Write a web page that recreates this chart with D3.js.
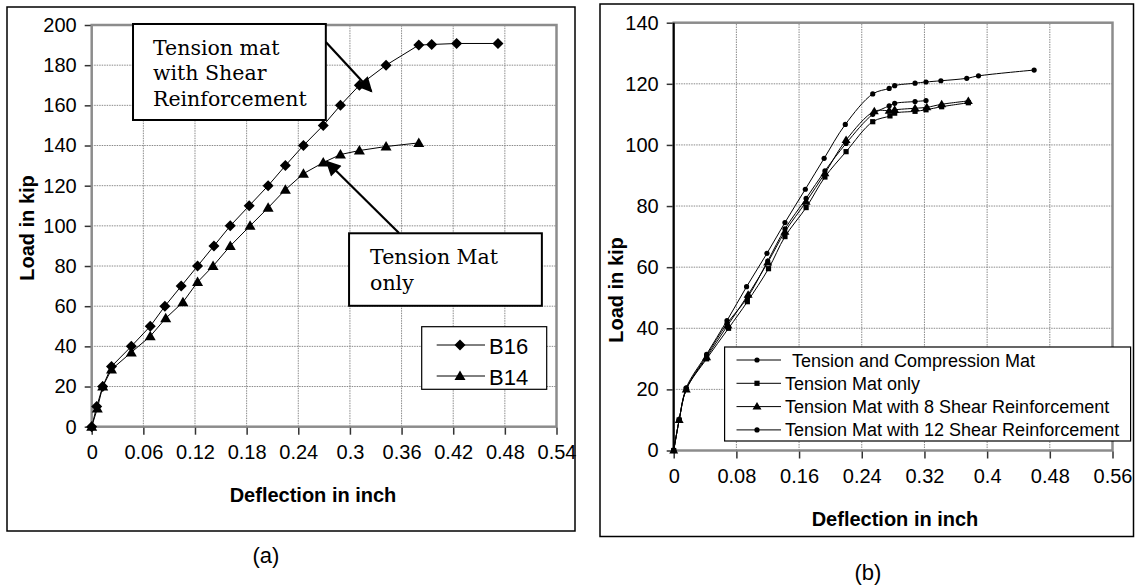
<!DOCTYPE html>
<html>
<head>
<meta charset="utf-8">
<script src="https://cdnjs.cloudflare.com/ajax/libs/d3/7.8.5/d3.min.js"></script>
<style>
  body { margin: 0; background: #fff; }
  text { font-family: "Liberation Sans", Arial, sans-serif; fill: #000; }
  .note text { font-family: "DejaVu Serif", serif; }
  .grid line { stroke: #8a8a8a; stroke-width: 1; stroke-dasharray: 1.5,1; }
  .ax path { display: none; }
  .ax line { stroke: #333; stroke-width: 1.5; }
</style>
</head>
<body>
<div id="plot"></div>
<script>
// ---- chart (a) data ----
var b16X = [0, 0.0058, 0.0128, 0.023, 0.046, 0.068, 0.085, 0.104, 0.123, 0.142, 0.161, 0.183, 0.205, 0.225, 0.246, 0.269, 0.289, 0.311, 0.342, 0.380, 0.395, 0.424, 0.472];
var b16Y = [0, 10, 20, 30, 40, 50, 60, 70, 80, 90, 100, 110, 120, 130, 140, 150, 160, 170, 180, 190, 190.3, 190.8, 190.8];
var b14X = [0, 0.0065, 0.0128, 0.023, 0.046, 0.068, 0.086, 0.106, 0.123, 0.141, 0.161, 0.184, 0.205, 0.225, 0.246, 0.269, 0.289, 0.311, 0.342, 0.380];
var b14Y = [0, 9, 20, 28.5, 37, 45, 54, 62, 72, 80, 90, 100, 109, 118, 126, 131.5, 135.5, 137.5, 139.5, 141.3];
var ticksXa = [0, 0.06, 0.12, 0.18, 0.24, 0.3, 0.36, 0.42, 0.48, 0.54];
var ticksYa = [0, 20, 40, 60, 80, 100, 120, 140, 160, 180, 200];
var legendA = ["B16", "B14"];

// ---- chart (b) data ----
var tcX = [0, 0.007, 0.016, 0.042, 0.068, 0.093, 0.119, 0.142, 0.168, 0.192, 0.219, 0.254, 0.275, 0.282, 0.308, 0.322, 0.341, 0.374, 0.389, 0.46];
var tcY = [0, 10, 20.5, 31.5, 42.5, 53.6, 64.5, 74.6, 85.5, 95.6, 106.7, 116.7, 118.5, 119.4, 120.2, 120.6, 121, 121.8, 122.6, 124.5];
var tmX = [0, 0.007, 0.016, 0.042, 0.07, 0.094, 0.121, 0.142, 0.169, 0.193, 0.22, 0.254, 0.276, 0.282, 0.308, 0.322, 0.342, 0.376];
var tmY = [0, 10, 20, 30, 40, 48.7, 59.5, 70, 79.5, 89.5, 97.8, 107.6, 109.5, 110.4, 111, 111.5, 112.5, 113.8];
var s8X = [0, 0.007, 0.016, 0.042, 0.069, 0.095, 0.12, 0.142, 0.169, 0.193, 0.22, 0.256, 0.275, 0.282, 0.308, 0.323, 0.342, 0.376];
var s8Y = [0, 10, 20, 30.5, 41, 51, 61.5, 71.6, 81.4, 90.7, 101.6, 111, 111.2, 111.5, 112, 112.3, 113.3, 114.4];
var s12X = [0, 0.007, 0.016, 0.042, 0.068, 0.094, 0.12, 0.142, 0.169, 0.193, 0.22, 0.254, 0.275, 0.282, 0.308, 0.322];
var s12Y = [0, 10, 20, 31, 41.5, 50, 62, 72.5, 82.5, 91.5, 100.5, 110, 112.8, 113.6, 114.2, 114.5];
var ticksXb = [0, 0.08, 0.16, 0.24, 0.32, 0.4, 0.48, 0.56];
var ticksYb = [0, 20, 40, 60, 80, 100, 120, 140];
var legendB = ["Tension and Compression Mat", "Tension Mat only", "Tension Mat with 8 Shear Reinforcement", "Tension Mat with 12 Shear Reinforcement"];

function zip(xs, ys) {
  return xs.map(function(v, i) { return { x: v, y: ys[i] }; });
}

var diamond = "M0,-5.5L5.5,0L0,5.5L-5.5,0Z";
var triBig = "M0,-5.5L5.5,4L-5.5,4Z";
var triSmall = "M0,-4.5L4.5,3L-4.5,3Z";
var square = "M-2.6,-2.6H2.6V2.6H-2.6Z";
var dot = "M2.6,0A2.6,2.6 0 1,1 -2.6,0A2.6,2.6 0 1,1 2.6,0Z";

var svg = d3.select("#plot").append("svg")
  .attr("width", 1135).attr("height", 586);

svg.append("defs").append("marker")
  .attr("id", "arr")
  .attr("viewBox", "0 0 10 10")
  .attr("refX", 9).attr("refY", 5)
  .attr("markerWidth", 18).attr("markerHeight", 15)
  .attr("markerUnits", "userSpaceOnUse")
  .attr("orient", "auto")
  .append("path").attr("d", "M0,0L10,5L0,10Z").attr("fill", "#000");

// generic frame + grid + axes
function drawFrame(g, x, y, tx, ty, fmt) {
  g.append("g").attr("class", "grid")
    .selectAll("line.v").data(tx.slice(1, -1)).enter().append("line")
    .attr("x1", function(d) { return x(d); }).attr("x2", function(d) { return x(d); })
    .attr("y1", y.range()[0]).attr("y2", y.range()[1]);
  g.append("g").attr("class", "grid")
    .selectAll("line.h").data(ty.slice(1, -1)).enter().append("line")
    .attr("y1", function(d) { return y(d); }).attr("y2", function(d) { return y(d); })
    .attr("x1", x.range()[0]).attr("x2", x.range()[1]);

  g.append("rect")
    .attr("x", x.range()[0]).attr("y", y.range()[1])
    .attr("width", x.range()[1] - x.range()[0])
    .attr("height", y.range()[0] - y.range()[1])
    .attr("fill", "none").attr("stroke", "#8c8c8c").attr("stroke-width", 2.5);

  var xa = g.append("g").attr("class", "ax")
    .attr("transform", "translate(0," + (y.range()[0] + 1) + ")")
    .call(d3.axisBottom(x).tickValues(tx).tickSize(7).tickPadding(10).tickFormat(fmt));
  xa.selectAll("text").style("font-size", "20px").attr("dy", "0.72em");

  var ya = g.append("g").attr("class", "ax")
    .attr("transform", "translate(" + (x.range()[0] - 1) + ",0)")
    .call(d3.axisLeft(y).tickValues(ty).tickSize(6).tickPadding(8));
  ya.selectAll("text").style("font-size", "20px");
}

function fmtX(d) { return d === 0 ? "0" : String(+d.toFixed(2)); }

// ================= chart (a) =================
var ga = svg.append("g");
ga.append("rect").attr("x", 7).attr("y", 7).attr("width", 568).attr("height", 524)
  .attr("fill", "#fff").attr("stroke", "#000").attr("stroke-width", 1.5);

var xA = d3.scaleLinear().domain([0, 0.54]).range([91.7, 556.5]);
var yA = d3.scaleLinear().domain([0, 200]).range([426.7, 25]);
drawFrame(ga, xA, yA, ticksXa, ticksYa, fmtX);

var lineA = d3.line().x(function(d) { return xA(d.x); }).y(function(d) { return yA(d.y); });
var seriesA = [
  { pts: zip(b16X, b16Y), sym: diamond },
  { pts: zip(b14X, b14Y), sym: triBig }
];
seriesA.forEach(function(s) {
  ga.append("path").attr("d", lineA(s.pts)).attr("fill", "none").attr("stroke", "#000").attr("stroke-width", 1);
  ga.selectAll(null).data(s.pts).enter().append("path")
    .attr("d", s.sym)
    .attr("transform", function(d) { return "translate(" + xA(d.x) + "," + yA(d.y) + ")"; })
    .attr("fill", "#000");
});

// annotations, placed in data units
var notes = ga.append("g").attr("class", "note");
function noteBox(x0, y0, x1, y1, lines, pad) {
  notes.append("rect")
    .attr("x", xA(x0)).attr("y", yA(y0))
    .attr("width", xA(x1) - xA(x0)).attr("height", yA(y1) - yA(y0))
    .attr("fill", "#fff").attr("stroke", "#000").attr("stroke-width", 2);
  lines.forEach(function(t, i) {
    notes.append("text").attr("x", xA(x0) + pad).attr("y", yA(y0) + 31 + i * 25.5)
      .style("font-size", "20.5px").text(t);
  });
}
function arrow(x0, y0, x1, y1) {
  notes.append("line")
    .attr("x1", xA(x0)).attr("y1", yA(y0)).attr("x2", xA(x1)).attr("y2", yA(y1))
    .attr("stroke", "#000").attr("stroke-width", 2.2).attr("marker-end", "url(#arr)");
}
arrow(0.272, 191.5, 0.325, 167);
arrow(0.357, 96.4, 0.273, 132);
noteBox(0.048, 200.5, 0.272, 152.7, ["Tension mat", "with Shear", "Reinforcement"], 20);
noteBox(0.299, 96.3, 0.523, 60.2, ["Tension Mat", "only"], 21);

// legend (a)
var legA = ga.append("g");
legA.append("rect").attr("x", 421.7).attr("y", 326.7).attr("width", 125).attr("height", 62.6)
  .attr("fill", "#fff").attr("stroke", "#000").attr("stroke-width", 1.2);
legendA.forEach(function(name, i) {
  var cy = 345 + i * 31;
  legA.append("line").attr("x1", 436.7).attr("x2", 485).attr("y1", cy).attr("y2", cy).attr("stroke", "#000");
  legA.append("path").attr("d", seriesA[i].sym).attr("transform", "translate(460," + cy + ")").attr("fill", "#000");
  legA.append("text").attr("x", 489).attr("y", cy + 8.5).style("font-size", "22px").text(name);
});

ga.append("text").attr("text-anchor", "middle")
  .attr("transform", "translate(34,228)rotate(-90)")
  .style("font-size", "20px").style("font-weight", "bold").text("Load in kip");
ga.append("text").attr("text-anchor", "middle").attr("x", 313).attr("y", 502)
  .style("font-size", "20px").style("font-weight", "bold").text("Deflection in inch");
svg.append("text").attr("text-anchor", "middle").attr("x", 266).attr("y", 563)
  .style("font-size", "22px").text("(a)");

// ================= chart (b) =================
var gb = svg.append("g");
gb.append("rect").attr("x", 600).attr("y", 4).attr("width", 533.5).attr("height", 532.5)
  .attr("fill", "#fff").attr("stroke", "#000").attr("stroke-width", 1.5);

var xB = d3.scaleLinear().domain([0, 0.56]).range([673.7, 1112.5]);
var yB = d3.scaleLinear().domain([0, 140]).range([450.5, 22.7]);
drawFrame(gb, xB, yB, ticksXb, ticksYb, fmtX);
gb.append("line").attr("x1", xB(0)).attr("x2", xB(0)).attr("y1", yB(0)).attr("y2", yB(140))
  .attr("stroke", "#000").attr("stroke-width", 2);

var lineB = d3.line().curve(d3.curveCatmullRom.alpha(0.5))
  .x(function(d) { return xB(d.x); }).y(function(d) { return yB(d.y); });
var seriesB = [
  { pts: zip(tcX, tcY), sym: dot },
  { pts: zip(tmX, tmY), sym: square },
  { pts: zip(s8X, s8Y), sym: triSmall },
  { pts: zip(s12X, s12Y), sym: dot }
];
seriesB.forEach(function(s) {
  gb.append("path").attr("d", lineB(s.pts)).attr("fill", "none").attr("stroke", "#000").attr("stroke-width", 1);
});
seriesB.forEach(function(s) {
  gb.selectAll(null).data(s.pts).enter().append("path")
    .attr("d", s.sym)
    .attr("transform", function(d) { return "translate(" + xB(d.x) + "," + yB(d.y) + ")"; })
    .attr("fill", "#000");
});

// legend (b)
var legB = gb.append("g");
legB.append("rect").attr("x", 724.6).attr("y", 347).attr("width", 406).attr("height", 94)
  .attr("fill", "#fff").attr("stroke", "#000").attr("stroke-width", 1.2);
legendB.forEach(function(name, i) {
  var cy = 360 + i * 23.3;
  legB.append("line").attr("x1", 736.5).attr("x2", 781).attr("y1", cy).attr("y2", cy).attr("stroke", "#000");
  legB.append("path").attr("d", seriesB[i].sym).attr("transform", "translate(757," + cy + ")").attr("fill", "#000");
  legB.append("text").attr("x", i === 0 ? 792 : 785).attr("y", cy + 6.5).style("font-size", "18px").text(name);
});

gb.append("text").attr("text-anchor", "middle")
  .attr("transform", "translate(623,290)rotate(-90)")
  .style("font-size", "20px").style("font-weight", "bold").text("Load in kip");
gb.append("text").attr("text-anchor", "middle").attr("x", 895).attr("y", 526)
  .style("font-size", "20px").style("font-weight", "bold").text("Deflection in inch");
svg.append("text").attr("text-anchor", "middle").attr("x", 868).attr("y", 580)
  .style("font-size", "22px").text("(b)");
</script>
</body>
</html>
